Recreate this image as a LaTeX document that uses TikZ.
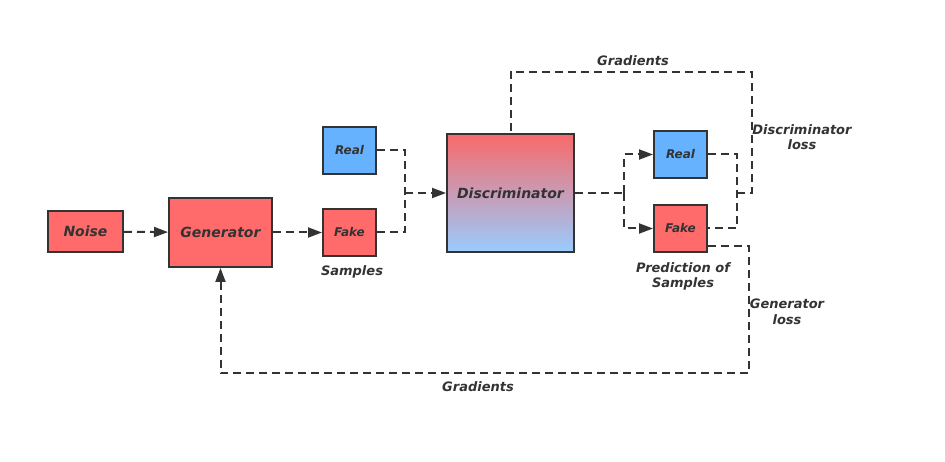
\documentclass[tikz,border=0pt]{standalone}
\usepackage{fontspec}
\setmainfont{DejaVu Sans}
\usetikzlibrary{arrows.meta,positioning,calc}
\definecolor{boxred}{HTML}{FF6B6B}
\definecolor{boxblue}{HTML}{66B2FF}
\definecolor{ink}{HTML}{333333}
\definecolor{gradtop}{HTML}{F86A6A}
\definecolor{gradbot}{HTML}{99CCFF}
\begin{document}
\begin{tikzpicture}[x=1pt,y=-1pt,
  box/.style={draw=ink,line width=2pt,text=ink,font=\bfseries\itshape\fontsize{14}{16}\selectfont,inner sep=0pt},
  small/.style={box,minimum width=53pt,minimum height=47pt,font=\bfseries\itshape\fontsize{12}{14}\selectfont},
  lbl/.style={text=ink,font=\bfseries\itshape\fontsize{13}{15.5}\selectfont,align=center,inner sep=0pt},
  flow/.style={draw=ink,line width=2pt,dash pattern=on 8pt off 5pt},
  tip/.style={flow,-{Triangle[length=14pt,width=10pt]}}]
\useasboundingbox (0,0) rectangle (945,462);
\node[box,fill=boxred,minimum width=75pt,minimum height=41pt](noise) at (85.5,231.5){Noise};
\node[box,fill=boxred,minimum width=103pt,minimum height=69pt](gen) at (220.5,232.5){Generator};
\node[small,fill=boxblue](real1) at (349.5,150.5){Real};
\node[small,fill=boxred](fake1) at (349.5,232.5){Fake};
\node[box,top color=gradtop,bottom color=gradbot,minimum width=127pt,minimum height=118pt](disc) at (510.5,193){Discriminator};
\node[small,fill=boxblue](real2) at (680.5,154.5){Real};
\node[small,fill=boxred](fake2) at (680.5,228.5){Fake};
\node[lbl](samples) at (352,272){Samples};
\node[lbl](pred) at (683,276.5){Prediction of\\Samples};
\node[lbl](dloss) at (802,137){Discriminator\\loss};
\node[lbl](gloss) at (787,312){Generator\\loss};
\node[lbl](gradtop) at (633,61){Gradients};
\node[lbl](gradbot) at (478,387){Gradients};
\coordinate (j1) at (405,193);
\coordinate (j2) at (624,193);
\coordinate (j3) at (737,193);
\coordinate (top) at (752,72);
\coordinate (bot) at (749,373);
\draw[tip](noise)--(gen);
\draw[tip](gen)--(fake1);
\draw[flow](real1.east)-|(j1);
\draw[flow](fake1.east)-|(j1);
\draw[tip](j1)--(disc.west);
\draw[flow](disc.east)--(j2);
\draw[tip](j2)|-(real2.west);
\draw[tip](j2)|-(fake2.west);
\draw[flow](real2.east)-|(j3)|-(fake2.east);
\draw[flow](j3)-|(top)-|(disc.north);
\draw[tip]($(fake2.south east)+(0,-7)$)-|(bot)-|(gen.south);
\end{tikzpicture}
\end{document}
